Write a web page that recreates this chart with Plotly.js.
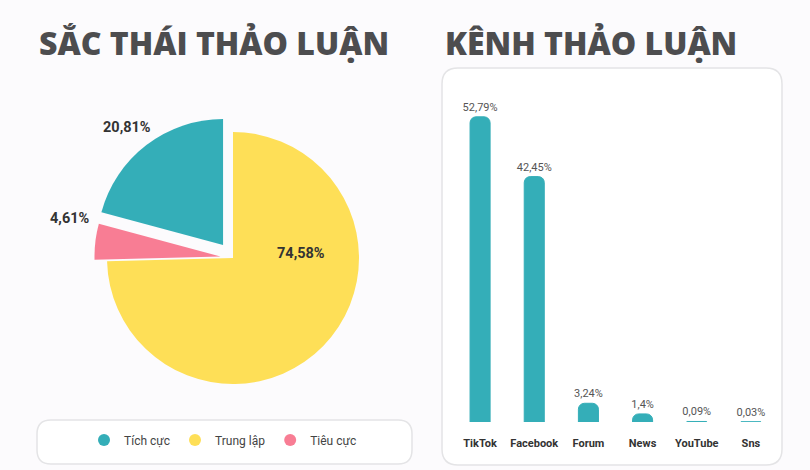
<!DOCTYPE html>
<html>
<head>
<meta charset="utf-8">
<script src="https://cdn.plot.ly/plotly-3.0.1.min.js"></script>
<style>
html,body{margin:0;padding:0;background:#fcfbfd;}
#chart{width:810px;height:470px;}
</style>
</head>
<body>
<div id="chart"></div>
<script>
// ---- data ----
var sentimentLabels = ['Tích cực', 'Trung lập', 'Tiêu cực'];
var sentimentValues = [20.81, 74.58, 4.61];
var sentimentColors = ['#34aeb8', '#fedf57', '#f87d94'];

var channelLabels = ['TikTok', 'Facebook', 'Forum', 'News', 'YouTube', 'Sns'];
var channelValues = [52.79, 42.45, 3.24, 1.4, 0.09, 0.03];
var channelColor = '#34aeb8';

var titleLeft = 'SẮC THÁI THẢO LUẬN';
var titleRight = 'KÊNH THẢO LUẬN';

// ---- helpers (pixel -> paper) ----
var W = 810, H = 470;
function px(x){ return x / W; }
function py(y){ return 1 - y / H; }
function roundRect(x0, y0, x1, y1, r){
  var rx = r / W, ry = r / H;
  var X0 = px(x0), X1 = px(x1), Y0 = py(y0), Y1 = py(y1);
  return 'M' + (X0 + rx) + ',' + Y0 +
    ' L' + (X1 - rx) + ',' + Y0 +
    ' Q' + X1 + ',' + Y0 + ' ' + X1 + ',' + (Y0 - ry) +
    ' L' + X1 + ',' + (Y1 + ry) +
    ' Q' + X1 + ',' + Y1 + ' ' + (X1 - rx) + ',' + Y1 +
    ' L' + (X0 + rx) + ',' + Y1 +
    ' Q' + X0 + ',' + Y1 + ' ' + X0 + ',' + (Y1 + ry) +
    ' L' + X0 + ',' + (Y0 - ry) +
    ' Q' + X0 + ',' + Y0 + ' ' + (X0 + rx) + ',' + Y0 + ' Z';
}
function fmtPct(v){ return v.toFixed(2).replace('.', ',') + '%'; }

var pulls = [0.13, 0, 0.1];
var maxPull = 0.13;
var cx = 233, cy = 258, R = 126;
var half = R * (1 + maxPull);

var pie = {
  type: 'pie',
  labels: sentimentLabels,
  values: sentimentValues,
  sort: false,
  direction: 'clockwise',
  rotation: -sentimentValues[0] * 3.6,
  pull: pulls,
  marker: {colors: sentimentColors, line: {width: 0}},
  textinfo: 'none',
  showlegend: false,
  hoverinfo: 'label+percent',
  domain: {x: [px(cx - half), px(cx + half)], y: [py(cy + half), py(cy - half)]}
};

// legend proxies (circle markers)
var legendTraces = sentimentLabels.map(function(l, i){
  return {
    type: 'scatter', mode: 'markers', x: [null], y: [null],
    name: l, marker: {color: sentimentColors[i], size: 12, symbol: 'circle'},
    xaxis: 'x', yaxis: 'y', showlegend: true, hoverinfo: 'skip'
  };
});

var bars = {
  type: 'bar',
  x: channelLabels,
  y: channelValues,
  marker: {color: channelColor, cornerradius: 6, line: {color: channelColor, width: 1}},
  width: 0.37,
  text: channelValues.map(function(v){ return String(v).replace('.', ',') + '%'; }),
  textposition: 'outside',
  constraintext: 'none',
  cliponaxis: false,
  textfont: {family: 'Roboto', size: 11, color: '#555555'},
  showlegend: false,
  hoverinfo: 'x+y'
};

// pie label placements (pixels)
var pieLabelPos = [[127, 127], [299, 253], [70, 218]];
var pieAnn = sentimentValues.map(function(v, i){
  return {text: fmtPct(v), xref: 'paper', yref: 'paper',
    x: px(pieLabelPos[i][0]), y: py(pieLabelPos[i][1]),
    xanchor: i === 1 ? 'left' : 'center', yanchor: 'middle', showarrow: false,
    font: {family: 'Roboto', size: 14.5, color: '#333333', weight: 'bold'}};
});
pieAnn[1].x = px(275);

var layout = {
  width: W, height: H,
  margin: {l: 0, r: 0, t: 0, b: 0},
  paper_bgcolor: '#fcfbfd',
  plot_bgcolor: 'rgba(0,0,0,0)',
  separators: ',.',
  font: {family: 'Roboto', color: '#444444'},
  xaxis: {
    domain: [px(453), px(778)],
    showgrid: false, zeroline: false, showline: false,
    ticks: '', fixedrange: true,
    tickfont: {family: 'Roboto', size: 11, color: '#333333', weight: 'bold'},
    ticklabelstandoff: 13
  },
  yaxis: {
    domain: [py(422), py(100)],
    range: [0, 55.7],
    visible: false, fixedrange: true
  },
  showlegend: true,
  legend: {
    orientation: 'h',
    x: px(223), xanchor: 'center',
    y: py(440), yanchor: 'middle',
    bgcolor: 'rgba(0,0,0,0)',
    font: {family: 'Roboto', size: 12, color: '#444444'},
    itemclick: false, itemdoubleclick: false
  },
  shapes: [
    {type: 'path', xref: 'paper', yref: 'paper', layer: 'below',
     path: roundRect(442, 68, 782, 465, 16),
     fillcolor: '#ffffff', line: {color: '#e4e4e6', width: 1.5}},
    {type: 'path', xref: 'paper', yref: 'paper', layer: 'below',
     path: roundRect(37, 420, 412, 464, 14),
     fillcolor: '#ffffff', line: {color: '#e4e4e6', width: 1.5}}
  ],
  annotations: [
    {text: titleLeft, xref: 'paper', yref: 'paper', x: px(37), y: py(42),
     xanchor: 'left', yanchor: 'middle', showarrow: false,
     font: {family: 'Open Sans', size: 32, color: '#4d4d4f', weight: 800}},
    {text: titleRight, xref: 'paper', yref: 'paper', x: px(443), y: py(42),
     xanchor: 'left', yanchor: 'middle', showarrow: false,
     font: {family: 'Open Sans', size: 32, color: '#4d4d4f', weight: 800}}
  ].concat(pieAnn)
};

Plotly.newPlot('chart', [pie, bars].concat(legendTraces), layout, {displayModeBar: false});
</script>
</body>
</html>
